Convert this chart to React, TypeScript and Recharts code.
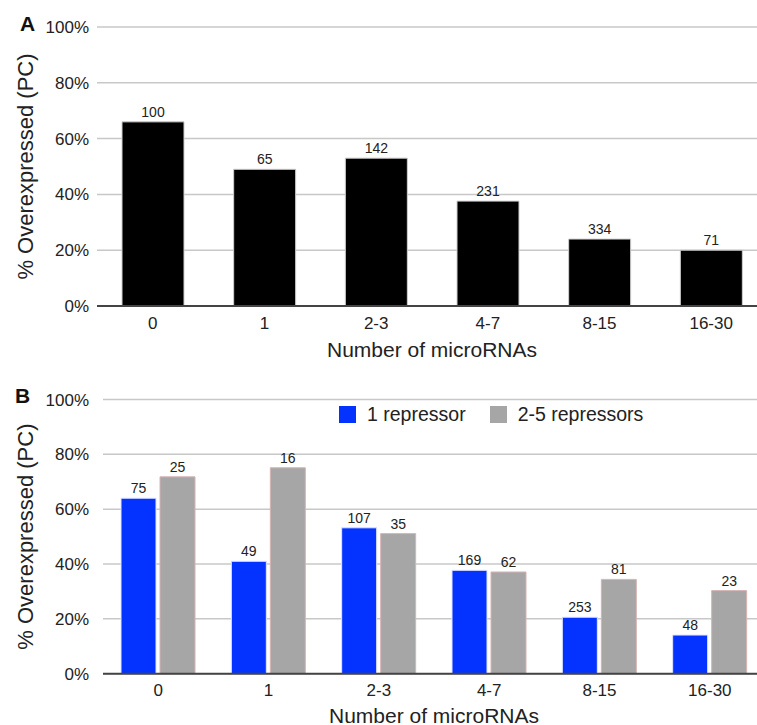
import { BarChart, Bar, XAxis, YAxis, CartesianGrid, LabelList } from 'recharts';

// categories (number of microRNAs)
const categories = ['0', '1', '2-3', '4-7', '8-15', '16-30'];

// panel A: % overexpressed and gene counts
const overexpressedA = [66, 49, 53, 37.6, 24, 20];
const countsA = [100, 65, 142, 231, 334, 71];

// panel B: split by number of repressors
const oneRepressor = [64, 41, 53.2, 37.7, 20.6, 14.1];
const oneRepressorCounts = [75, 49, 107, 169, 253, 48];
const multiRepressor = [71.8, 75.1, 51.1, 37.1, 34.4, 30.3];
const multiRepressorCounts = [25, 16, 35, 62, 81, 23];

const yTicks = [0, 20, 40, 60, 80, 100];
const legendLabels = ['1 repressor', '2-5 repressors'];

const FONT = 'Arial, "Liberation Sans", Helvetica, sans-serif';
const BLUE = '#0433ff';
const GRAY = '#a6a6a6';

const dataA = categories.map((c, i) => ({ cat: c, value: overexpressedA[i], n: countsA[i] }));
const dataB = categories.map((c, i) => ({
  cat: c,
  one: oneRepressor[i],
  oneN: oneRepressorCounts[i],
  multi: multiRepressor[i],
  multiN: multiRepressorCounts[i],
}));

const tickStyle = { fontSize: 17, fill: '#222', fontFamily: FONT };
const yTitle = {
  value: '% Overexpressed (PC)',
  angle: -90,
  position: 'insideLeft' as const,
  offset: 25,
  style: { textAnchor: 'middle', fontSize: 22, fill: '#222', fontFamily: FONT },
};

const panelLetter = (letter: string, left: number, top: number) => (
  <div
    style={{
      position: 'absolute',
      left,
      top,
      fontFamily: FONT,
      fontWeight: 'bold',
      fontSize: 21,
      lineHeight: '21px',
      color: '#111',
    }}
  >
    {letter}
  </div>
);

const LegendB = () => (
  <div
    style={{
      position: 'absolute',
      left: 339,
      top: 403,
      display: 'flex',
      alignItems: 'center',
      fontFamily: FONT,
      fontSize: 19.5,
      color: '#222',
    }}
  >
    {[BLUE, GRAY].map((color, i) => (
      <div key={i} style={{ display: 'flex', alignItems: 'center', marginRight: 24 }}>
        <span style={{ width: 17, height: 17, background: color, display: 'inline-block', marginRight: 11 }} />
        <span>{legendLabels[i]}</span>
      </div>
    ))}
  </div>
);

export default function App() {
  return (
    <div
      style={{
        position: 'absolute',
        left: 0,
        top: 0,
        width: 757,
        height: 725,
        overflow: 'hidden',
        background: '#fff',
      }}
    >
      {/* Panel A */}
      <div style={{ position: 'absolute', left: 0, top: 0 }}>
        <BarChart
          width={780}
          height={370}
          data={dataA}
          margin={{ top: 27, right: 13, left: 0, bottom: 4 }}
          barSize={62}
        >
          <CartesianGrid vertical={false} stroke="#c8c8c8" strokeWidth={1.5} />
          <XAxis
            dataKey="cat"
            height={60}
            tickLine={false}
            tickSize={0}
            tickMargin={11}
            stroke="#444"
            strokeWidth={2}
            tick={tickStyle}
            label={{
              value: 'Number of microRNAs',
              position: 'insideBottom',
              offset: 9,
              style: { fontSize: 21, fill: '#222', fontFamily: FONT },
            }}
          />
          <YAxis
            width={97}
            domain={[0, 100]}
            ticks={yTicks}
            tickFormatter={(v) => `${v}%`}
            axisLine={false}
            tickLine={false}
            tickSize={0}
            tickMargin={8}
            tick={tickStyle}
            label={yTitle}
          />
          <Bar dataKey="value" fill="#000" stroke="#cfcfcf" strokeWidth={1} isAnimationActive={false}>
            <LabelList dataKey="n" position="top" offset={5} style={{ fontSize: 14, fill: '#222', fontFamily: FONT }} />
          </Bar>
        </BarChart>
      </div>

      {/* Panel B */}
      <div style={{ position: 'absolute', left: 0, top: 360 }}>
        <BarChart
          width={780}
          height={365}
          data={dataB}
          margin={{ top: 39.5, right: 15, left: 0, bottom: 0 }}
          barSize={35}
          barGap={4}
        >
          <CartesianGrid vertical={false} stroke="#c8c8c8" strokeWidth={1.5} />
          <XAxis
            dataKey="cat"
            height={51.3}
            tickLine={false}
            tickSize={0}
            tickMargin={10}
            stroke="#444"
            strokeWidth={2}
            tick={tickStyle}
            label={{
              value: 'Number of microRNAs',
              position: 'insideBottom',
              offset: 2.5,
              style: { fontSize: 21, fill: '#222', fontFamily: FONT },
            }}
          />
          <YAxis
            width={103}
            domain={[0, 100]}
            ticks={yTicks}
            tickFormatter={(v) => `${v}%`}
            axisLine={false}
            tickLine={false}
            tickSize={0}
            tickMargin={14}
            tick={tickStyle}
            label={yTitle}
          />
          <Bar dataKey="one" fill={BLUE} stroke="#dfe4ff" strokeWidth={1} isAnimationActive={false}>
            <LabelList dataKey="oneN" position="top" offset={5} style={{ fontSize: 14, fill: '#222', fontFamily: FONT }} />
          </Bar>
          <Bar dataKey="multi" fill={GRAY} stroke="#d7b4b4" strokeWidth={1} isAnimationActive={false}>
            <LabelList dataKey="multiN" position="top" offset={5} style={{ fontSize: 14, fill: '#222', fontFamily: FONT }} />
          </Bar>
        </BarChart>
      </div>

      {panelLetter('A', 20, 13)}
      {panelLetter('B', 15, 385)}
      <LegendB />
    </div>
  );
}
